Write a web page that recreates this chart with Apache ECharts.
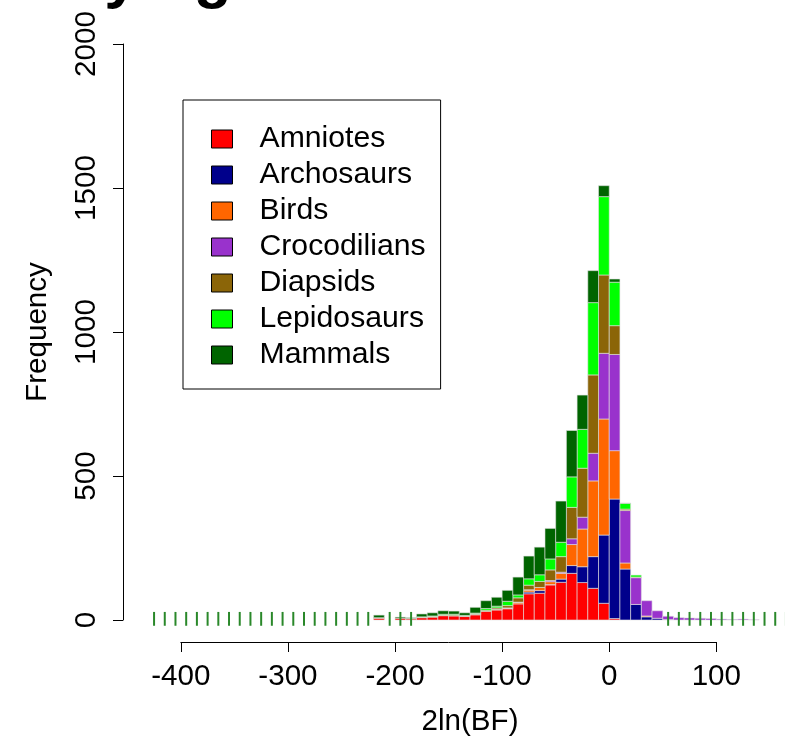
<!DOCTYPE html>
<html>
<head>
<meta charset="utf-8">
<title>2ln(BF)</title>
<script src="https://cdn.jsdelivr.net/npm/echarts@6/dist/echarts.min.js"></script>
<style>
  html, body { margin: 0; padding: 0; background: #fff; }
  #main { width: 785px; height: 740px; }
</style>
</head>
<body>
<div id="main"></div>
<script>
var FONT = '"Liberation Sans", Arial, sans-serif';

// left edge of each histogram bin (bin width 10)
var binStart = [-430,-420,-410,-400,-390,-380,-370,-360,-350,-340,
                -330,-320,-310,-300,-290,-280,-270,-260,-250,-240,
                -230,-220,-210,-200,-190,-180,-170,-160,-150,-140,
                -130,-120,-110,-100,-90,-80,-70,-60,-50,-40,
                -30,-20,-10,0,10,20,30,40,50,60,
                70,80,90,100,110,120,130,140,150,160];
var binWidth = 10;

var groups = ['Amniotes', 'Archosaurs', 'Birds', 'Crocodilians', 'Diapsids', 'Lepidosaurs', 'Mammals'];
var colors = ['#ff0000', '#00008b', '#ff6600', '#9932cc', '#8b6508', '#00ff00', '#006400'];

var amniotes     = [0,0,0,0,0,0,0,0,0,0,0,0,0,0,0,0,0,0,0,0,0,
                    6,0,6,4,8,10,15,14,12,18,30,35,39,56,91,93,122,131,162,130,110,58,5,
                    0,0,0,0,0,0,0,0,0,0,0,0,0,0,0,0];
var archosaurs   = [0,0,0,0,0,0,0,0,0,0,0,0,0,0,0,0,0,0,0,0,0,0,0,0,0,0,0,0,0,0,0,0,0,0,0,
                    6,9,1,11,27,55,110,237,415,177,54,11,6,2,
                    0,0,0,0,0,0,0,0,0,0,0];
var birds        = [0,0,0,0,0,0,0,0,0,0,0,0,0,0,0,0,0,0,0,0,0,0,0,0,0,0,0,0,0,0,
                    1,0,1,2,5,7,11,10,20,73,131,263,403,168,21,0,3,
                    0,0,0,0,0,0,0,0,0,0,0,0,0];
var crocodilians = [0,0,0,0,0,0,0,0,0,0,0,0,0,0,0,0,0,0,0,0,0,0,0,0,0,0,0,0,0,0,0,0,
                    1,1,1,1,0,4,4,20,41,96,228,334,182,93,53,26,11,8,7,6,5,3,2,3,1,
                    0,0,0];
var diapsids     = [0,0,0,0,0,0,0,0,0,0,0,0,0,0,0,0,0,0,0,0,0,
                    2,0,0,2,2,2,2,3,2,3,4,5,8,15,16,21,37,54,109,170,272,272,100,5,2,
                    0,0,0,0,0,0,0,0,0,0,0,0,0,0];
var lepidosaurs  = [0,0,0,0,0,0,0,0,0,0,0,0,0,0,0,0,0,0,0,0,0,0,0,0,0,
                    1,2,3,3,2,2,6,6,15,10,22,23,38,50,106,135,251,272,151,20,7,
                    0,0,0,0,0,0,0,0,0,0,0,0,0,0];
var mammals      = [0,0,0,0,0,0,0,0,0,0,0,0,0,0,0,0,0,0,0,0,0,
                    9,0,4,2,10,11,12,11,9,20,27,31,38,62,79,96,106,143,161,119,111,38,11,1,
                    0,0,0,0,0,0,0,0,0,0,0,0,0,0,0];

var counts = [amniotes, archosaurs, birds, crocodilians, diapsids, lepidosaurs, mammals];

var yTicks = [0, 500, 1000, 1500, 2000];
var xTicks = [-400, -300, -200, -100, 0, 100];

// small marks along the baseline (range in count units around 0)
var rugRange = [-20, 28];

var myChart = echarts.init(document.getElementById('main'));

// stack the groups bin by bin
var base = binStart.map(function () { return 0; });
var series = groups.map(function (name, s) {
    var data = [];
    binStart.forEach(function (x0, i) {
        var v = counts[s][i];
        if (v > 0) data.push([x0, x0 + binWidth, base[i], base[i] + v]);
        base[i] += v;
    });
    return {
        name: name,
        type: 'custom',
        xAxisIndex: 0,
        yAxisIndex: 0,
        itemStyle: { color: colors[s] },
        encode: { x: [0, 1], y: [2, 3] },
        data: data,
        renderItem: function (params, api) {
            var p0 = api.coord([api.value(0), api.value(3)]);
            var p1 = api.coord([api.value(1), api.value(2)]);
            return {
                type: 'rect',
                shape: { x: p0[0], y: p0[1], width: p1[0] - p0[0], height: p1[1] - p0[1] },
                style: { fill: colors[s], stroke: 'rgba(225,225,225,0.6)', lineWidth: 1 }
            };
        }
    };
});

// baseline marks where nothing is stacked
var rugData = [];
binStart.forEach(function (x0, i) {
    if (base[i] < 15) rugData.push([x0 + binWidth / 2, rugRange[0], rugRange[1]]);
});
series.push({
    type: 'custom',
    name: 'rug',
    silent: true,
    encode: { x: 0, y: [1, 2] },
    data: rugData,
    renderItem: function (params, api) {
        var a = api.coord([api.value(0), api.value(1)]);
        var b = api.coord([api.value(0), api.value(2)]);
        return {
            type: 'line',
            shape: { x1: a[0], y1: a[1], x2: b[0], y2: b[1] },
            style: { stroke: '#2a882a', lineWidth: 2 }
        };
    }
});

var option = {
    animation: false,
    color: colors,
    textStyle: { fontFamily: FONT },
    graphic: [{
        type: 'text',
        x: 25,
        y: -21,
        style: {
            text: 'Phylogenetic',
            fontSize: 62,
            fontWeight: 'bold',
            fontFamily: FONT,
            fill: '#000',
            verticalAlign: 'middle'
        }
    }],
    legend: {
        data: groups,
        orient: 'vertical',
        left: 183,
        top: 100,
        itemWidth: 21,
        itemHeight: 18,
        itemGap: 6,
        padding: [24, 15, 19, 28],
        borderColor: '#000',
        borderWidth: 1,
        borderRadius: 0,
        icon: 'rect',
        itemStyle: { borderColor: '#000', borderWidth: 1 },
        textStyle: { fontSize: 30.2, fontFamily: FONT, color: '#000', padding: [0, 0, 0, 22] }
    },
    grid: [
        { left: 123, width: 694, top: 44, height: 576, outerBoundsMode: 'none' },
        { left: 123 + 54 * 694 / 648, width: 500 * 694 / 648, top: 641, height: 1, outerBoundsMode: 'none' }
    ],
    xAxis: [{
        gridIndex: 0,
        type: 'value',
        min: -454,
        max: 194,
        axisLine: { show: false, onZero: false },
        axisTick: { show: false },
        axisLabel: { show: false },
        splitLine: { show: false },
        name: '2ln(BF)',
        nameLocation: 'middle',
        nameGap: 87,
        nameTextStyle: { fontSize: 29.6, color: '#000', fontFamily: FONT }
    }, {
        gridIndex: 1,
        type: 'value',
        min: xTicks[0],
        max: xTicks[xTicks.length - 1],
        interval: 100,
        position: 'bottom',
        axisLine: { onZero: false, lineStyle: { color: '#000', width: 1 } },
        axisTick: { length: 10, lineStyle: { color: '#000' } },
        axisLabel: { fontSize: 29.6, color: '#000', margin: 20, fontFamily: FONT },
        splitLine: { show: false }
    }],
    yAxis: [{
        gridIndex: 0,
        type: 'value',
        min: yTicks[0],
        max: yTicks[yTicks.length - 1],
        interval: 500,
        axisLine: { show: true, onZero: false, lineStyle: { color: '#000', width: 1 } },
        axisTick: { show: true, length: 10, lineStyle: { color: '#000' } },
        axisLabel: {
            rotate: 90, fontSize: 29.6, color: '#000', margin: 21, fontFamily: FONT,
            formatter: function (v) { return String(v); }
        },
        splitLine: { show: false },
        name: 'Frequency',
        nameLocation: 'middle',
        nameRotate: 90,
        nameGap: 70,
        nameTextStyle: { fontSize: 29.6, color: '#000', fontFamily: FONT }
    }, {
        gridIndex: 1,
        type: 'value',
        show: false
    }],
    series: series
};

myChart.setOption(option);
</script>
</body>
</html>
